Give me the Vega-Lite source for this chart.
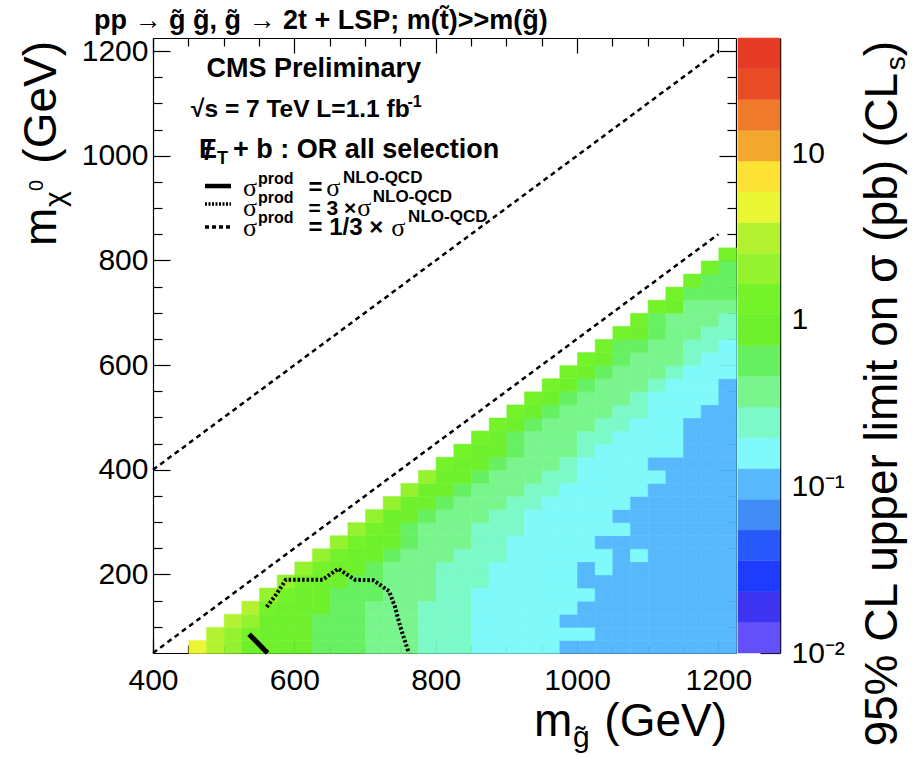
{
"$schema":"https://vega.github.io/schema/vega-lite/v6.json",
"background":"white",
"padding":{"left":18,"top":6,"right":5,"bottom":5},
"bounds":"flush",
"spacing":2,
"config":{"view":{"stroke":null},"axis":{"grid":false,"labelFont":"Liberation Sans","labelColor":"black","tickColor":"black","domainColor":"black","zindex":1},"text":{"font":"Liberation Sans","color":"black"}},
"datasets":{
"cells":[
{"mg":450,"mchi":50,"lim":4.6},{"mg":475,"mchi":50,"lim":3},{"mg":500,"mchi":50,"lim":2},{"mg":525,"mchi":50,"lim":0.85},{"mg":550,"mchi":50,"lim":0.85},{"mg":575,"mchi":50,"lim":0.85},{"mg":600,"mchi":50,"lim":0.85},{"mg":625,"mchi":50,"lim":0.55},{"mg":650,"mchi":50,"lim":0.55},{"mg":675,"mchi":50,"lim":0.55},{"mg":700,"mchi":50,"lim":0.36},{"mg":725,"mchi":50,"lim":0.36},{"mg":750,"mchi":50,"lim":0.36},{"mg":775,"mchi":50,"lim":0.24},{"mg":800,"mchi":50,"lim":0.24},{"mg":825,"mchi":50,"lim":0.24},{"mg":850,"mchi":50,"lim":0.16},{"mg":875,"mchi":50,"lim":0.16},{"mg":900,"mchi":50,"lim":0.16},{"mg":925,"mchi":50,"lim":0.16},{"mg":950,"mchi":50,"lim":0.16},{"mg":975,"mchi":50,"lim":0.1},{"mg":1000,"mchi":50,"lim":0.1},{"mg":1025,"mchi":50,"lim":0.1},{"mg":1050,"mchi":50,"lim":0.1},{"mg":1075,"mchi":50,"lim":0.1},{"mg":1100,"mchi":50,"lim":0.1},{"mg":1125,"mchi":50,"lim":0.1},{"mg":1150,"mchi":50,"lim":0.1},{"mg":1175,"mchi":50,"lim":0.1},{"mg":1200,"mchi":50,"lim":0.1},
{"mg":475,"mchi":75,"lim":3},{"mg":500,"mchi":75,"lim":2},{"mg":525,"mchi":75,"lim":1.3},{"mg":550,"mchi":75,"lim":0.85},{"mg":575,"mchi":75,"lim":0.85},{"mg":600,"mchi":75,"lim":0.85},{"mg":625,"mchi":75,"lim":0.55},{"mg":650,"mchi":75,"lim":0.55},{"mg":675,"mchi":75,"lim":0.55},{"mg":700,"mchi":75,"lim":0.36},{"mg":725,"mchi":75,"lim":0.36},{"mg":750,"mchi":75,"lim":0.36},{"mg":775,"mchi":75,"lim":0.24},{"mg":800,"mchi":75,"lim":0.24},{"mg":825,"mchi":75,"lim":0.24},{"mg":850,"mchi":75,"lim":0.16},{"mg":875,"mchi":75,"lim":0.16},{"mg":900,"mchi":75,"lim":0.16},{"mg":925,"mchi":75,"lim":0.16},{"mg":950,"mchi":75,"lim":0.16},{"mg":975,"mchi":75,"lim":0.16},{"mg":1000,"mchi":75,"lim":0.16},{"mg":1025,"mchi":75,"lim":0.1},{"mg":1050,"mchi":75,"lim":0.1},{"mg":1075,"mchi":75,"lim":0.1},{"mg":1100,"mchi":75,"lim":0.1},{"mg":1125,"mchi":75,"lim":0.1},{"mg":1150,"mchi":75,"lim":0.1},{"mg":1175,"mchi":75,"lim":0.1},{"mg":1200,"mchi":75,"lim":0.1},
{"mg":500,"mchi":100,"lim":3},{"mg":525,"mchi":100,"lim":2},{"mg":550,"mchi":100,"lim":0.85},{"mg":575,"mchi":100,"lim":0.85},{"mg":600,"mchi":100,"lim":0.85},{"mg":625,"mchi":100,"lim":0.55},{"mg":650,"mchi":100,"lim":0.55},{"mg":675,"mchi":100,"lim":0.55},{"mg":700,"mchi":100,"lim":0.36},{"mg":725,"mchi":100,"lim":0.36},{"mg":750,"mchi":100,"lim":0.36},{"mg":775,"mchi":100,"lim":0.24},{"mg":800,"mchi":100,"lim":0.24},{"mg":825,"mchi":100,"lim":0.24},{"mg":850,"mchi":100,"lim":0.16},{"mg":875,"mchi":100,"lim":0.16},{"mg":900,"mchi":100,"lim":0.16},{"mg":925,"mchi":100,"lim":0.16},{"mg":950,"mchi":100,"lim":0.16},{"mg":975,"mchi":100,"lim":0.1},{"mg":1000,"mchi":100,"lim":0.1},{"mg":1025,"mchi":100,"lim":0.1},{"mg":1050,"mchi":100,"lim":0.1},{"mg":1075,"mchi":100,"lim":0.1},{"mg":1100,"mchi":100,"lim":0.1},{"mg":1125,"mchi":100,"lim":0.1},{"mg":1150,"mchi":100,"lim":0.1},{"mg":1175,"mchi":100,"lim":0.1},{"mg":1200,"mchi":100,"lim":0.1},
{"mg":525,"mchi":125,"lim":3},{"mg":550,"mchi":125,"lim":1.3},{"mg":575,"mchi":125,"lim":0.85},{"mg":600,"mchi":125,"lim":0.85},{"mg":625,"mchi":125,"lim":0.85},{"mg":650,"mchi":125,"lim":0.55},{"mg":675,"mchi":125,"lim":0.55},{"mg":700,"mchi":125,"lim":0.36},{"mg":725,"mchi":125,"lim":0.36},{"mg":750,"mchi":125,"lim":0.36},{"mg":775,"mchi":125,"lim":0.24},{"mg":800,"mchi":125,"lim":0.24},{"mg":825,"mchi":125,"lim":0.24},{"mg":850,"mchi":125,"lim":0.16},{"mg":875,"mchi":125,"lim":0.16},{"mg":900,"mchi":125,"lim":0.16},{"mg":925,"mchi":125,"lim":0.16},{"mg":950,"mchi":125,"lim":0.16},{"mg":975,"mchi":125,"lim":0.16},{"mg":1000,"mchi":125,"lim":0.1},{"mg":1025,"mchi":125,"lim":0.1},{"mg":1050,"mchi":125,"lim":0.1},{"mg":1075,"mchi":125,"lim":0.1},{"mg":1100,"mchi":125,"lim":0.1},{"mg":1125,"mchi":125,"lim":0.1},{"mg":1150,"mchi":125,"lim":0.1},{"mg":1175,"mchi":125,"lim":0.1},{"mg":1200,"mchi":125,"lim":0.1},
{"mg":550,"mchi":150,"lim":2},{"mg":575,"mchi":150,"lim":1.3},{"mg":600,"mchi":150,"lim":0.85},{"mg":625,"mchi":150,"lim":0.85},{"mg":650,"mchi":150,"lim":0.55},{"mg":675,"mchi":150,"lim":0.55},{"mg":700,"mchi":150,"lim":0.55},{"mg":725,"mchi":150,"lim":0.36},{"mg":750,"mchi":150,"lim":0.36},{"mg":775,"mchi":150,"lim":0.36},{"mg":800,"mchi":150,"lim":0.24},{"mg":825,"mchi":150,"lim":0.24},{"mg":850,"mchi":150,"lim":0.16},{"mg":875,"mchi":150,"lim":0.16},{"mg":900,"mchi":150,"lim":0.16},{"mg":925,"mchi":150,"lim":0.16},{"mg":950,"mchi":150,"lim":0.16},{"mg":975,"mchi":150,"lim":0.16},{"mg":1000,"mchi":150,"lim":0.16},{"mg":1025,"mchi":150,"lim":0.1},{"mg":1050,"mchi":150,"lim":0.1},{"mg":1075,"mchi":150,"lim":0.1},{"mg":1100,"mchi":150,"lim":0.1},{"mg":1125,"mchi":150,"lim":0.1},{"mg":1150,"mchi":150,"lim":0.1},{"mg":1175,"mchi":150,"lim":0.1},{"mg":1200,"mchi":150,"lim":0.1},
{"mg":575,"mchi":175,"lim":2},{"mg":600,"mchi":175,"lim":1.3},{"mg":625,"mchi":175,"lim":0.85},{"mg":650,"mchi":175,"lim":0.85},{"mg":675,"mchi":175,"lim":0.55},{"mg":700,"mchi":175,"lim":0.55},{"mg":725,"mchi":175,"lim":0.36},{"mg":750,"mchi":175,"lim":0.36},{"mg":775,"mchi":175,"lim":0.36},{"mg":800,"mchi":175,"lim":0.24},{"mg":825,"mchi":175,"lim":0.24},{"mg":850,"mchi":175,"lim":0.24},{"mg":875,"mchi":175,"lim":0.16},{"mg":900,"mchi":175,"lim":0.16},{"mg":925,"mchi":175,"lim":0.16},{"mg":950,"mchi":175,"lim":0.16},{"mg":975,"mchi":175,"lim":0.16},{"mg":1000,"mchi":175,"lim":0.1},{"mg":1025,"mchi":175,"lim":0.1},{"mg":1050,"mchi":175,"lim":0.1},{"mg":1075,"mchi":175,"lim":0.1},{"mg":1100,"mchi":175,"lim":0.1},{"mg":1125,"mchi":175,"lim":0.1},{"mg":1150,"mchi":175,"lim":0.1},{"mg":1175,"mchi":175,"lim":0.1},{"mg":1200,"mchi":175,"lim":0.1},
{"mg":600,"mchi":200,"lim":2},{"mg":625,"mchi":200,"lim":1.3},{"mg":650,"mchi":200,"lim":0.85},{"mg":675,"mchi":200,"lim":0.85},{"mg":700,"mchi":200,"lim":0.55},{"mg":725,"mchi":200,"lim":0.36},{"mg":750,"mchi":200,"lim":0.36},{"mg":775,"mchi":200,"lim":0.36},{"mg":800,"mchi":200,"lim":0.24},{"mg":825,"mchi":200,"lim":0.24},{"mg":850,"mchi":200,"lim":0.24},{"mg":875,"mchi":200,"lim":0.16},{"mg":900,"mchi":200,"lim":0.16},{"mg":925,"mchi":200,"lim":0.16},{"mg":950,"mchi":200,"lim":0.16},{"mg":975,"mchi":200,"lim":0.16},{"mg":1000,"mchi":200,"lim":0.1},{"mg":1025,"mchi":200,"lim":0.16},{"mg":1050,"mchi":200,"lim":0.1},{"mg":1075,"mchi":200,"lim":0.1},{"mg":1100,"mchi":200,"lim":0.1},{"mg":1125,"mchi":200,"lim":0.1},{"mg":1150,"mchi":200,"lim":0.1},{"mg":1175,"mchi":200,"lim":0.1},{"mg":1200,"mchi":200,"lim":0.1},
{"mg":625,"mchi":225,"lim":2},{"mg":650,"mchi":225,"lim":1.3},{"mg":675,"mchi":225,"lim":0.85},{"mg":700,"mchi":225,"lim":0.85},{"mg":725,"mchi":225,"lim":0.55},{"mg":750,"mchi":225,"lim":0.36},{"mg":775,"mchi":225,"lim":0.36},{"mg":800,"mchi":225,"lim":0.36},{"mg":825,"mchi":225,"lim":0.24},{"mg":850,"mchi":225,"lim":0.24},{"mg":875,"mchi":225,"lim":0.24},{"mg":900,"mchi":225,"lim":0.16},{"mg":925,"mchi":225,"lim":0.16},{"mg":950,"mchi":225,"lim":0.16},{"mg":975,"mchi":225,"lim":0.16},{"mg":1000,"mchi":225,"lim":0.16},{"mg":1025,"mchi":225,"lim":0.16},{"mg":1050,"mchi":225,"lim":0.1},{"mg":1075,"mchi":225,"lim":0.16},{"mg":1100,"mchi":225,"lim":0.1},{"mg":1125,"mchi":225,"lim":0.1},{"mg":1150,"mchi":225,"lim":0.1},{"mg":1175,"mchi":225,"lim":0.1},{"mg":1200,"mchi":225,"lim":0.1},
{"mg":650,"mchi":250,"lim":2},{"mg":675,"mchi":250,"lim":1.3},{"mg":700,"mchi":250,"lim":0.85},{"mg":725,"mchi":250,"lim":0.85},{"mg":750,"mchi":250,"lim":0.55},{"mg":775,"mchi":250,"lim":0.36},{"mg":800,"mchi":250,"lim":0.36},{"mg":825,"mchi":250,"lim":0.36},{"mg":850,"mchi":250,"lim":0.24},{"mg":875,"mchi":250,"lim":0.24},{"mg":900,"mchi":250,"lim":0.16},{"mg":925,"mchi":250,"lim":0.16},{"mg":950,"mchi":250,"lim":0.16},{"mg":975,"mchi":250,"lim":0.16},{"mg":1000,"mchi":250,"lim":0.16},{"mg":1025,"mchi":250,"lim":0.1},{"mg":1050,"mchi":250,"lim":0.1},{"mg":1075,"mchi":250,"lim":0.1},{"mg":1100,"mchi":250,"lim":0.1},{"mg":1125,"mchi":250,"lim":0.1},{"mg":1150,"mchi":250,"lim":0.1},{"mg":1175,"mchi":250,"lim":0.1},{"mg":1200,"mchi":250,"lim":0.1},
{"mg":675,"mchi":275,"lim":2},{"mg":700,"mchi":275,"lim":1.3},{"mg":725,"mchi":275,"lim":0.85},{"mg":750,"mchi":275,"lim":0.55},{"mg":775,"mchi":275,"lim":0.36},{"mg":800,"mchi":275,"lim":0.36},{"mg":825,"mchi":275,"lim":0.36},{"mg":850,"mchi":275,"lim":0.24},{"mg":875,"mchi":275,"lim":0.24},{"mg":900,"mchi":275,"lim":0.24},{"mg":925,"mchi":275,"lim":0.16},{"mg":950,"mchi":275,"lim":0.16},{"mg":975,"mchi":275,"lim":0.16},{"mg":1000,"mchi":275,"lim":0.16},{"mg":1025,"mchi":275,"lim":0.16},{"mg":1050,"mchi":275,"lim":0.16},{"mg":1075,"mchi":275,"lim":0.1},{"mg":1100,"mchi":275,"lim":0.1},{"mg":1125,"mchi":275,"lim":0.1},{"mg":1150,"mchi":275,"lim":0.1},{"mg":1175,"mchi":275,"lim":0.1},{"mg":1200,"mchi":275,"lim":0.1},
{"mg":700,"mchi":300,"lim":2},{"mg":725,"mchi":300,"lim":0.85},{"mg":750,"mchi":300,"lim":0.85},{"mg":775,"mchi":300,"lim":0.55},{"mg":800,"mchi":300,"lim":0.36},{"mg":825,"mchi":300,"lim":0.36},{"mg":850,"mchi":300,"lim":0.36},{"mg":875,"mchi":300,"lim":0.24},{"mg":900,"mchi":300,"lim":0.24},{"mg":925,"mchi":300,"lim":0.16},{"mg":950,"mchi":300,"lim":0.16},{"mg":975,"mchi":300,"lim":0.16},{"mg":1000,"mchi":300,"lim":0.16},{"mg":1025,"mchi":300,"lim":0.16},{"mg":1050,"mchi":300,"lim":0.1},{"mg":1075,"mchi":300,"lim":0.1},{"mg":1100,"mchi":300,"lim":0.1},{"mg":1125,"mchi":300,"lim":0.1},{"mg":1150,"mchi":300,"lim":0.1},{"mg":1175,"mchi":300,"lim":0.1},{"mg":1200,"mchi":300,"lim":0.1},
{"mg":725,"mchi":325,"lim":2},{"mg":750,"mchi":325,"lim":0.85},{"mg":775,"mchi":325,"lim":0.85},{"mg":800,"mchi":325,"lim":0.55},{"mg":825,"mchi":325,"lim":0.36},{"mg":850,"mchi":325,"lim":0.36},{"mg":875,"mchi":325,"lim":0.36},{"mg":900,"mchi":325,"lim":0.24},{"mg":925,"mchi":325,"lim":0.24},{"mg":950,"mchi":325,"lim":0.16},{"mg":975,"mchi":325,"lim":0.16},{"mg":1000,"mchi":325,"lim":0.16},{"mg":1025,"mchi":325,"lim":0.16},{"mg":1050,"mchi":325,"lim":0.16},{"mg":1075,"mchi":325,"lim":0.1},{"mg":1100,"mchi":325,"lim":0.1},{"mg":1125,"mchi":325,"lim":0.1},{"mg":1150,"mchi":325,"lim":0.1},{"mg":1175,"mchi":325,"lim":0.1},{"mg":1200,"mchi":325,"lim":0.1},
{"mg":750,"mchi":350,"lim":2},{"mg":775,"mchi":350,"lim":0.85},{"mg":800,"mchi":350,"lim":0.85},{"mg":825,"mchi":350,"lim":0.55},{"mg":850,"mchi":350,"lim":0.36},{"mg":875,"mchi":350,"lim":0.36},{"mg":900,"mchi":350,"lim":0.36},{"mg":925,"mchi":350,"lim":0.24},{"mg":950,"mchi":350,"lim":0.24},{"mg":975,"mchi":350,"lim":0.16},{"mg":1000,"mchi":350,"lim":0.16},{"mg":1025,"mchi":350,"lim":0.16},{"mg":1050,"mchi":350,"lim":0.16},{"mg":1075,"mchi":350,"lim":0.16},{"mg":1100,"mchi":350,"lim":0.1},{"mg":1125,"mchi":350,"lim":0.1},{"mg":1150,"mchi":350,"lim":0.1},{"mg":1175,"mchi":350,"lim":0.1},{"mg":1200,"mchi":350,"lim":0.1},
{"mg":775,"mchi":375,"lim":2},{"mg":800,"mchi":375,"lim":0.85},{"mg":825,"mchi":375,"lim":0.85},{"mg":850,"mchi":375,"lim":0.55},{"mg":875,"mchi":375,"lim":0.36},{"mg":900,"mchi":375,"lim":0.36},{"mg":925,"mchi":375,"lim":0.36},{"mg":950,"mchi":375,"lim":0.24},{"mg":975,"mchi":375,"lim":0.24},{"mg":1000,"mchi":375,"lim":0.16},{"mg":1025,"mchi":375,"lim":0.16},{"mg":1050,"mchi":375,"lim":0.16},{"mg":1075,"mchi":375,"lim":0.16},{"mg":1100,"mchi":375,"lim":0.16},{"mg":1125,"mchi":375,"lim":0.1},{"mg":1150,"mchi":375,"lim":0.1},{"mg":1175,"mchi":375,"lim":0.1},{"mg":1200,"mchi":375,"lim":0.1},
{"mg":800,"mchi":400,"lim":1.3},{"mg":825,"mchi":400,"lim":0.85},{"mg":850,"mchi":400,"lim":0.85},{"mg":875,"mchi":400,"lim":0.55},{"mg":900,"mchi":400,"lim":0.36},{"mg":925,"mchi":400,"lim":0.36},{"mg":950,"mchi":400,"lim":0.36},{"mg":975,"mchi":400,"lim":0.24},{"mg":1000,"mchi":400,"lim":0.16},{"mg":1025,"mchi":400,"lim":0.16},{"mg":1050,"mchi":400,"lim":0.16},{"mg":1075,"mchi":400,"lim":0.16},{"mg":1100,"mchi":400,"lim":0.1},{"mg":1125,"mchi":400,"lim":0.1},{"mg":1150,"mchi":400,"lim":0.1},{"mg":1175,"mchi":400,"lim":0.1},{"mg":1200,"mchi":400,"lim":0.1},
{"mg":825,"mchi":425,"lim":1.3},{"mg":850,"mchi":425,"lim":0.85},{"mg":875,"mchi":425,"lim":0.85},{"mg":900,"mchi":425,"lim":0.55},{"mg":925,"mchi":425,"lim":0.36},{"mg":950,"mchi":425,"lim":0.36},{"mg":975,"mchi":425,"lim":0.36},{"mg":1000,"mchi":425,"lim":0.24},{"mg":1025,"mchi":425,"lim":0.16},{"mg":1050,"mchi":425,"lim":0.16},{"mg":1075,"mchi":425,"lim":0.16},{"mg":1100,"mchi":425,"lim":0.16},{"mg":1125,"mchi":425,"lim":0.16},{"mg":1150,"mchi":425,"lim":0.1},{"mg":1175,"mchi":425,"lim":0.1},{"mg":1200,"mchi":425,"lim":0.1},
{"mg":850,"mchi":450,"lim":1.3},{"mg":875,"mchi":450,"lim":0.85},{"mg":900,"mchi":450,"lim":0.55},{"mg":925,"mchi":450,"lim":0.36},{"mg":950,"mchi":450,"lim":0.36},{"mg":975,"mchi":450,"lim":0.36},{"mg":1000,"mchi":450,"lim":0.24},{"mg":1025,"mchi":450,"lim":0.24},{"mg":1050,"mchi":450,"lim":0.16},{"mg":1075,"mchi":450,"lim":0.16},{"mg":1100,"mchi":450,"lim":0.16},{"mg":1125,"mchi":450,"lim":0.16},{"mg":1150,"mchi":450,"lim":0.1},{"mg":1175,"mchi":450,"lim":0.1},{"mg":1200,"mchi":450,"lim":0.1},
{"mg":875,"mchi":475,"lim":1.3},{"mg":900,"mchi":475,"lim":0.85},{"mg":925,"mchi":475,"lim":0.55},{"mg":950,"mchi":475,"lim":0.36},{"mg":975,"mchi":475,"lim":0.36},{"mg":1000,"mchi":475,"lim":0.36},{"mg":1025,"mchi":475,"lim":0.24},{"mg":1050,"mchi":475,"lim":0.24},{"mg":1075,"mchi":475,"lim":0.16},{"mg":1100,"mchi":475,"lim":0.16},{"mg":1125,"mchi":475,"lim":0.16},{"mg":1150,"mchi":475,"lim":0.1},{"mg":1175,"mchi":475,"lim":0.1},{"mg":1200,"mchi":475,"lim":0.1},
{"mg":900,"mchi":500,"lim":1.3},{"mg":925,"mchi":500,"lim":0.85},{"mg":950,"mchi":500,"lim":0.55},{"mg":975,"mchi":500,"lim":0.36},{"mg":1000,"mchi":500,"lim":0.36},{"mg":1025,"mchi":500,"lim":0.36},{"mg":1050,"mchi":500,"lim":0.24},{"mg":1075,"mchi":500,"lim":0.24},{"mg":1100,"mchi":500,"lim":0.16},{"mg":1125,"mchi":500,"lim":0.16},{"mg":1150,"mchi":500,"lim":0.16},{"mg":1175,"mchi":500,"lim":0.1},{"mg":1200,"mchi":500,"lim":0.1},
{"mg":925,"mchi":525,"lim":1.3},{"mg":950,"mchi":525,"lim":0.85},{"mg":975,"mchi":525,"lim":0.55},{"mg":1000,"mchi":525,"lim":0.36},{"mg":1025,"mchi":525,"lim":0.36},{"mg":1050,"mchi":525,"lim":0.36},{"mg":1075,"mchi":525,"lim":0.24},{"mg":1100,"mchi":525,"lim":0.16},{"mg":1125,"mchi":525,"lim":0.16},{"mg":1150,"mchi":525,"lim":0.16},{"mg":1175,"mchi":525,"lim":0.16},{"mg":1200,"mchi":525,"lim":0.1},
{"mg":950,"mchi":550,"lim":1.3},{"mg":975,"mchi":550,"lim":0.85},{"mg":1000,"mchi":550,"lim":0.55},{"mg":1025,"mchi":550,"lim":0.36},{"mg":1050,"mchi":550,"lim":0.36},{"mg":1075,"mchi":550,"lim":0.36},{"mg":1100,"mchi":550,"lim":0.24},{"mg":1125,"mchi":550,"lim":0.16},{"mg":1150,"mchi":550,"lim":0.16},{"mg":1175,"mchi":550,"lim":0.16},{"mg":1200,"mchi":550,"lim":0.1},
{"mg":975,"mchi":575,"lim":1.3},{"mg":1000,"mchi":575,"lim":0.85},{"mg":1025,"mchi":575,"lim":0.55},{"mg":1050,"mchi":575,"lim":0.36},{"mg":1075,"mchi":575,"lim":0.36},{"mg":1100,"mchi":575,"lim":0.36},{"mg":1125,"mchi":575,"lim":0.24},{"mg":1150,"mchi":575,"lim":0.16},{"mg":1175,"mchi":575,"lim":0.16},{"mg":1200,"mchi":575,"lim":0.16},
{"mg":1000,"mchi":600,"lim":1.3},{"mg":1025,"mchi":600,"lim":0.85},{"mg":1050,"mchi":600,"lim":0.55},{"mg":1075,"mchi":600,"lim":0.36},{"mg":1100,"mchi":600,"lim":0.36},{"mg":1125,"mchi":600,"lim":0.36},{"mg":1150,"mchi":600,"lim":0.24},{"mg":1175,"mchi":600,"lim":0.16},{"mg":1200,"mchi":600,"lim":0.16},
{"mg":1025,"mchi":625,"lim":1.3},{"mg":1050,"mchi":625,"lim":0.55},{"mg":1075,"mchi":625,"lim":0.55},{"mg":1100,"mchi":625,"lim":0.36},{"mg":1125,"mchi":625,"lim":0.36},{"mg":1150,"mchi":625,"lim":0.24},{"mg":1175,"mchi":625,"lim":0.24},{"mg":1200,"mchi":625,"lim":0.16},
{"mg":1050,"mchi":650,"lim":1.3},{"mg":1075,"mchi":650,"lim":0.85},{"mg":1100,"mchi":650,"lim":0.55},{"mg":1125,"mchi":650,"lim":0.36},{"mg":1150,"mchi":650,"lim":0.36},{"mg":1175,"mchi":650,"lim":0.24},{"mg":1200,"mchi":650,"lim":0.24},
{"mg":1075,"mchi":675,"lim":1.3},{"mg":1100,"mchi":675,"lim":0.55},{"mg":1125,"mchi":675,"lim":0.36},{"mg":1150,"mchi":675,"lim":0.36},{"mg":1175,"mchi":675,"lim":0.36},{"mg":1200,"mchi":675,"lim":0.24},
{"mg":1100,"mchi":700,"lim":1.3},{"mg":1125,"mchi":700,"lim":0.85},{"mg":1150,"mchi":700,"lim":0.36},{"mg":1175,"mchi":700,"lim":0.36},{"mg":1200,"mchi":700,"lim":0.36},
{"mg":1125,"mchi":725,"lim":1.3},{"mg":1150,"mchi":725,"lim":0.55},{"mg":1175,"mchi":725,"lim":0.55},{"mg":1200,"mchi":725,"lim":0.55},
{"mg":1150,"mchi":750,"lim":1.3},{"mg":1175,"mchi":750,"lim":0.55},{"mg":1200,"mchi":750,"lim":0.55},
{"mg":1175,"mchi":775,"lim":1.3},{"mg":1200,"mchi":775,"lim":0.55},
{"mg":1200,"mchi":800,"lim":1.3}
],
"bands":[
{"lo":0.01,"hi":0.01529,"mid":0.01237},{"lo":0.01529,"hi":0.02339,"mid":0.01891},{"lo":0.02339,"hi":0.03577,"mid":0.02893},{"lo":0.03577,"hi":0.05472,"mid":0.04424},{"lo":0.05472,"hi":0.08369,"mid":0.06767},{"lo":0.08369,"hi":0.128,"mid":0.1035},{"lo":0.128,"hi":0.1958,"mid":0.1583},{"lo":0.1958,"hi":0.2995,"mid":0.242},{"lo":0.2995,"hi":0.4581,"mid":0.3703},{"lo":0.4581,"hi":0.7007,"mid":0.5662},{"lo":0.7007,"hi":1.0706,"mid":0.8658},{"lo":1.0706,"hi":1.6375,"mid":1.324},{"lo":1.6375,"hi":2.5048,"mid":2.025},{"lo":2.5048,"hi":3.8312,"mid":3.097},{"lo":3.8312,"hi":5.8602,"mid":4.736},{"lo":5.8602,"hi":8.9636,"mid":7.244},{"lo":8.9636,"hi":13.71,"mid":11.08},{"lo":13.71,"hi":20.971,"mid":16.94},{"lo":20.971,"hi":32.077,"mid":25.92},{"lo":32.077,"hi":49,"mid":39.64}
],
"kin":[{"line":"equal","mg":400,"mchi":400},{"line":"equal","mg":1200,"mchi":1200},{"line":"twotop","mg":400,"mchi":50},{"line":"twotop","mg":1200,"mchi":850}],
"contour":[
{"curve":"nominal","i":0,"mg":536,"mchi":86},{"curve":"nominal","i":1,"mg":562,"mchi":50},
{"curve":"x3","i":0,"mg":561,"mchi":138},{"curve":"x3","i":1,"mg":576,"mchi":165},{"curve":"x3","i":2,"mg":588,"mchi":190},{"curve":"x3","i":3,"mg":612,"mchi":190},{"curve":"x3","i":4,"mg":640,"mchi":190},{"curve":"x3","i":5,"mg":662,"mchi":211},{"curve":"x3","i":6,"mg":686,"mchi":190},{"curve":"x3","i":7,"mg":712,"mchi":189},{"curve":"x3","i":8,"mg":734,"mchi":168},{"curve":"x3","i":9,"mg":742,"mchi":140},{"curve":"x3","i":10,"mg":750,"mchi":100},{"curve":"x3","i":11,"mg":762,"mchi":50}
]
},
"hconcat":[
{
"width":583,"height":615,
"layer":[
{"data":{"name":"cells"},"mark":{"type":"rect","binSpacing":0,"strokeWidth":0.5},
"encoding":{
"x":{"field":"mg","type":"quantitative","bin":{"binned":true,"step":25},"scale":{"domain":[400,1225],"nice":false,"zero":false},
"axis":{"orient":"bottom","title":null,"values":[400,450,500,550,600,650,700,750,800,850,900,950,1000,1050,1100,1150,1200],"format":"d","labelExpr":"datum.value % 200 === 0 ? datum.label : ''","tickSize":{"expr":"datum.value % 200 === 0 ? -15 : -8"},"tickWidth":1.2,"labelFontSize":30,"labelPadding":27,"labelOverlap":false,"labelBound":false,"labelFlush":false,"domainWidth":1.2}},
"y":{"field":"mchi","type":"quantitative","bin":{"binned":true,"step":25},"scale":{"domain":[50,1225],"nice":false,"zero":false},
"axis":{"orient":"left","title":null,"values":[100,150,200,250,300,350,400,450,500,550,600,650,700,750,800,850,900,950,1000,1050,1100,1150,1200],"format":"d","labelExpr":"datum.value % 200 === 0 ? datum.label : ''","tickSize":{"expr":"datum.value % 200 === 0 ? -17 : -9"},"tickWidth":1.2,"labelFontSize":30,"labelPadding":22,"labelOverlap":false,"labelBound":false,"labelFlush":false,"domainWidth":1.2}},
"color":{"field":"lim","type":"quantitative","scale":{"type":"threshold","domain":[0.01529,0.02339,0.03577,0.05472,0.08369,0.128,0.1958,0.2995,0.4581,0.7007,1.0706,1.6375,2.5048,3.8312,5.8602,8.9636,13.71,20.971,32.077],"range":["#6450fa","#3c34f0","#1e3cff","#2858fa","#418cf5","#57b9fc","#7ff9f9","#7cf9c8","#7af48c","#66f062","#6ef02c","#74f22a","#94f22e","#b2f230","#eaf534","#fce232","#f2a82e","#ee7a2a","#e84c26","#e63c26"]},"legend":null},
"stroke":{"field":"lim","type":"quantitative","scale":{"type":"threshold","domain":[0.01529,0.02339,0.03577,0.05472,0.08369,0.128,0.1958,0.2995,0.4581,0.7007,1.0706,1.6375,2.5048,3.8312,5.8602,8.9636,13.71,20.971,32.077],"range":["#6450fa","#3c34f0","#1e3cff","#2858fa","#418cf5","#57b9fc","#7ff9f9","#7cf9c8","#7af48c","#66f062","#6ef02c","#74f22a","#94f22e","#b2f230","#eaf534","#fce232","#f2a82e","#ee7a2a","#e84c26","#e63c26"]},"legend":null}
}},
{"data":{"name":"kin"},"mark":{"type":"line","color":"black","strokeWidth":2.5,"strokeDash":[5,4]},
"encoding":{
"x":{"field":"mg","type":"quantitative","axis":{"orient":"top","title":null,"labels":false,"values":[400,450,500,550,600,650,700,750,800,850,900,950,1000,1050,1100,1150,1200],"tickSize":{"expr":"datum.value % 200 === 0 ? -15 : -8"},"tickWidth":1.2,"domainWidth":1.2}},
"y":{"field":"mchi","type":"quantitative","axis":{"orient":"right","title":null,"labels":false,"values":[100,150,200,250,300,350,400,450,500,550,600,650,700,750,800,850,900,950,1000,1050,1100,1150,1200],"tickSize":{"expr":"datum.value % 200 === 0 ? -17 : -9"},"tickWidth":1.2,"domainWidth":1.2}},
"detail":{"field":"line"}}},
{"data":{"name":"contour"},"transform":[{"filter":"datum.curve === 'nominal'"}],"mark":{"type":"line","color":"black","strokeWidth":5},
"encoding":{"x":{"field":"mg","type":"quantitative","axis":null},"y":{"field":"mchi","type":"quantitative","axis":null},"order":{"field":"i"}}},
{"data":{"name":"contour"},"transform":[{"filter":"datum.curve === 'x3'"}],"mark":{"type":"line","color":"black","strokeWidth":4,"strokeDash":[2.5,2]},
"encoding":{"x":{"field":"mg","type":"quantitative","axis":null},"y":{"field":"mchi","type":"quantitative","axis":null},"order":{"field":"i"}}},
{"data":{"values":[{}]},"mark":{"type":"rule","color":"black","strokeWidth":4.5},"encoding":{"x":{"datum":473.6,"axis":null},"x2":{"datum":510.4},"y":{"datum":942.2,"axis":null}}},
{"data":{"values":[{}]},"mark":{"type":"rule","color":"black","strokeWidth":3.5,"strokeDash":[2,1.5]},"encoding":{"x":{"datum":473.6,"axis":null},"x2":{"datum":510.4},"y":{"datum":907.8,"axis":null}}},
{"data":{"values":[{}]},"mark":{"type":"rule","color":"black","strokeWidth":3.5,"strokeDash":[4,3]},"encoding":{"x":{"datum":473.6,"axis":null},"x2":{"datum":510.4},"y":{"datum":863.9,"axis":null}}},
{"data":{"values":[{}]},"mark":{"type":"text","text":"pp → g̃ g̃, g̃ → 2t + LSP; m(t̃)>>m(g̃)","fontSize":27,"fontWeight":"bold","align":"left","baseline":"alphabetic"},"encoding":{"x":{"datum":316.5,"axis":null},"y":{"datum":1242.2,"axis":null}}},
{"data":{"values":[{}]},"mark":{"type":"text","text":"CMS Preliminary","fontSize":27,"fontWeight":"bold","align":"left","baseline":"alphabetic"},"encoding":{"x":{"datum":475.7,"axis":null},"y":{"datum":1150.5,"axis":null}}},
{"data":{"values":[{}]},"mark":{"type":"text","text":"√s = 7 TeV L=1.1 fb","fontSize":24.5,"fontWeight":"bold","align":"left","baseline":"alphabetic"},"encoding":{"x":{"datum":453.8,"axis":null},"y":{"datum":1074.1,"axis":null}}},
{"data":{"values":[{}]},"mark":{"type":"text","text":"-1","fontSize":16,"fontWeight":"bold","align":"left","baseline":"alphabetic"},"encoding":{"x":{"datum":760,"axis":null},"y":{"datum":1093.2,"axis":null}}},
{"data":{"values":[{}]},"mark":{"type":"text","text":"E","fontSize":27,"fontWeight":"bold","align":"left","baseline":"alphabetic"},"encoding":{"x":{"datum":465.1,"axis":null},"y":{"datum":995.7,"axis":null}}},
{"data":{"values":[{}]},"mark":{"type":"text","text":"/","fontSize":28,"fontWeight":"bold","align":"left","baseline":"alphabetic"},"encoding":{"x":{"datum":472.6,"axis":null},"y":{"datum":993.5,"axis":null}}},
{"data":{"values":[{}]},"mark":{"type":"text","text":"T","fontSize":18,"fontWeight":"bold","align":"left","baseline":"alphabetic"},"encoding":{"x":{"datum":490.6,"axis":null},"y":{"datum":984.3,"axis":null}}},
{"data":{"values":[{}]},"mark":{"type":"text","text":"+ b : OR all selection","fontSize":27,"fontWeight":"bold","align":"left","baseline":"alphabetic"},"encoding":{"x":{"datum":513.2,"axis":null},"y":{"datum":995.7,"axis":null}}},
{"data":{"values":[{}]},"mark":{"type":"text","text":"σ","font":"Liberation Serif","fontSize":26,"align":"left","baseline":"alphabetic"},"encoding":{"x":{"datum":527.4,"axis":null},"y":{"datum":923.1,"axis":null}}},
{"data":{"values":[{}]},"mark":{"type":"text","text":"prod","fontSize":16,"fontWeight":"bold","align":"left","baseline":"alphabetic"},"encoding":{"x":{"datum":548.6,"axis":null},"y":{"datum":947,"axis":null}}},
{"data":{"values":[{}]},"mark":{"type":"text","text":"=","fontSize":24,"fontWeight":"bold","align":"left","baseline":"alphabetic"},"encoding":{"x":{"datum":620,"axis":null},"y":{"datum":924.9,"axis":null}}},
{"data":{"values":[{}]},"mark":{"type":"text","text":"σ","font":"Liberation Serif","fontSize":26,"align":"left","baseline":"alphabetic"},"encoding":{"x":{"datum":645,"axis":null},"y":{"datum":923.1,"axis":null}}},
{"data":{"values":[{}]},"mark":{"type":"text","text":"NLO-QCD","fontSize":17,"fontWeight":"bold","align":"left","baseline":"alphabetic"},"encoding":{"x":{"datum":669,"axis":null},"y":{"datum":948,"axis":null}}},
{"data":{"values":[{}]},"mark":{"type":"text","text":"σ","font":"Liberation Serif","fontSize":26,"align":"left","baseline":"alphabetic"},"encoding":{"x":{"datum":527.4,"axis":null},"y":{"datum":884.9,"axis":null}}},
{"data":{"values":[{}]},"mark":{"type":"text","text":"prod","fontSize":16,"fontWeight":"bold","align":"left","baseline":"alphabetic"},"encoding":{"x":{"datum":548.6,"axis":null},"y":{"datum":909.8,"axis":null}}},
{"data":{"values":[{}]},"mark":{"type":"text","text":"= 3 ×","fontSize":21,"fontWeight":"bold","align":"left","baseline":"alphabetic"},"encoding":{"x":{"datum":620,"axis":null},"y":{"datum":886.8,"axis":null}}},
{"data":{"values":[{}]},"mark":{"type":"text","text":"σ","font":"Liberation Serif","fontSize":26,"align":"left","baseline":"alphabetic"},"encoding":{"x":{"datum":689,"axis":null},"y":{"datum":884.9,"axis":null}}},
{"data":{"values":[{}]},"mark":{"type":"text","text":"NLO-QCD","fontSize":17,"fontWeight":"bold","align":"left","baseline":"alphabetic"},"encoding":{"x":{"datum":711,"axis":null},"y":{"datum":911,"axis":null}}},
{"data":{"values":[{}]},"mark":{"type":"text","text":"σ","font":"Liberation Serif","fontSize":26,"align":"left","baseline":"alphabetic"},"encoding":{"x":{"datum":527.4,"axis":null},"y":{"datum":846.7,"axis":null}}},
{"data":{"values":[{}]},"mark":{"type":"text","text":"prod","fontSize":16,"fontWeight":"bold","align":"left","baseline":"alphabetic"},"encoding":{"x":{"datum":548.6,"axis":null},"y":{"datum":872,"axis":null}}},
{"data":{"values":[{}]},"mark":{"type":"text","text":"= 1/3 ×","fontSize":24,"fontWeight":"bold","align":"left","baseline":"alphabetic"},"encoding":{"x":{"datum":620,"axis":null},"y":{"datum":848.6,"axis":null}}},
{"data":{"values":[{}]},"mark":{"type":"text","text":"σ","font":"Liberation Serif","fontSize":26,"align":"left","baseline":"alphabetic"},"encoding":{"x":{"datum":737,"axis":null},"y":{"datum":846.7,"axis":null}}},
{"data":{"values":[{}]},"mark":{"type":"text","text":"NLO-QCD","fontSize":17,"fontWeight":"bold","align":"left","baseline":"alphabetic"},"encoding":{"x":{"datum":761,"axis":null},"y":{"datum":873,"axis":null}}},
{"data":{"values":[{}]},"mark":{"type":"text","text":"m","fontSize":46,"align":"left","baseline":"alphabetic"},"encoding":{"x":{"datum":939.1,"axis":null},"y":{"datum":-108.6,"axis":null}}},
{"data":{"values":[{}]},"mark":{"type":"text","text":"g̃","fontSize":30,"align":"left","baseline":"alphabetic"},"encoding":{"x":{"datum":994.3,"axis":null},"y":{"datum":-130,"axis":null}}},
{"data":{"values":[{}]},"mark":{"type":"text","text":"(GeV)","fontSize":46,"align":"right","baseline":"alphabetic"},"encoding":{"x":{"datum":1212.3,"axis":null},"y":{"datum":-108.6,"axis":null}}},
{"data":{"values":[{}]},"mark":{"type":"text","text":"m","fontSize":46,"angle":270,"align":"left","baseline":"alphabetic"},"encoding":{"x":{"datum":262.7,"axis":null},"y":{"datum":827.6,"axis":null}}},
{"data":{"values":[{}]},"mark":{"type":"text","text":"χ","fontSize":30,"angle":270,"align":"left","baseline":"alphabetic"},"encoding":{"x":{"datum":275.5,"axis":null},"y":{"datum":902.1,"axis":null}}},
{"data":{"values":[{}]},"mark":{"type":"text","text":"0","fontSize":20,"angle":270,"align":"left","baseline":"alphabetic"},"encoding":{"x":{"datum":244.3,"axis":null},"y":{"datum":932.7,"axis":null}}},
{"data":{"values":[{}]},"mark":{"type":"text","text":"(GeV)","fontSize":46,"angle":270,"align":"right","baseline":"alphabetic"},"encoding":{"x":{"datum":262.7,"axis":null},"y":{"datum":1219.3,"axis":null}}}
],
"resolve":{"axis":{"x":"independent","y":"independent"}}
},
{
"width":42,"height":615,
"layer":[
{"data":{"name":"bands"},"mark":{"type":"rect","strokeWidth":0.5},
"encoding":{
"x":{"datum":0,"type":"quantitative","scale":{"domain":[0,1],"nice":false,"zero":false},"axis":null},
"x2":{"datum":1},
"y":{"field":"lo","type":"quantitative","scale":{"type":"log","domain":[0.01,49],"nice":false},
"axis":{"orient":"right","title":null,"values":[0.01,0.02,0.03,0.04,0.05,0.06,0.07,0.08,0.09,0.1,0.2,0.3,0.4,0.5,0.6,0.7,0.8,0.9,1,2,3,4,5,6,7,8,9,10,20,30,40],"labelExpr":"datum.value === 10 ? '10' : datum.value === 1 ? '1' : datum.value === 0.1 ? '10⁻¹' : datum.value === 0.01 ? '10⁻²' : ''","tickSize":{"expr":"(datum.value === 10 || datum.value === 1 || datum.value === 0.1 || datum.value === 0.01) ? -20 : -11"},"tickWidth":1.2,"labelFontSize":30,"labelPadding":31,"labelAlign":"left","labelOverlap":false,"labelBound":false,"labelFlush":false,"domainWidth":1.5}},
"y2":{"field":"hi"},
"color":{"field":"mid","type":"quantitative","scale":{"type":"threshold","domain":[0.01529,0.02339,0.03577,0.05472,0.08369,0.128,0.1958,0.2995,0.4581,0.7007,1.0706,1.6375,2.5048,3.8312,5.8602,8.9636,13.71,20.971,32.077],"range":["#6450fa","#3c34f0","#1e3cff","#2858fa","#418cf5","#57b9fc","#7ff9f9","#7cf9c8","#7af48c","#66f062","#6ef02c","#74f22a","#94f22e","#b2f230","#eaf534","#fce232","#f2a82e","#ee7a2a","#e84c26","#e63c26"]},"legend":null},
"stroke":{"field":"mid","type":"quantitative","scale":{"type":"threshold","domain":[0.01529,0.02339,0.03577,0.05472,0.08369,0.128,0.1958,0.2995,0.4581,0.7007,1.0706,1.6375,2.5048,3.8312,5.8602,8.9636,13.71,20.971,32.077],"range":["#6450fa","#3c34f0","#1e3cff","#2858fa","#418cf5","#57b9fc","#7ff9f9","#7cf9c8","#7af48c","#66f062","#6ef02c","#74f22a","#94f22e","#b2f230","#eaf534","#fce232","#f2a82e","#ee7a2a","#e84c26","#e63c26"]},"legend":null}
}},
{"data":{"values":[{}]},"mark":{"type":"text","text":"95% CL upper limit on σ (pb) (CL","fontSize":46,"angle":270,"align":"right","baseline":"alphabetic"},"encoding":{"x":{"datum":3.786,"axis":null},"y":{"datum":30.2,"axis":null}}},
{"data":{"values":[{}]},"mark":{"type":"text","text":"s","fontSize":28,"angle":270,"align":"right","baseline":"alphabetic"},"encoding":{"x":{"datum":3.976,"axis":null},"y":{"datum":38.06,"axis":null}}},
{"data":{"values":[{}]},"mark":{"type":"text","text":")","fontSize":46,"angle":270,"align":"right","baseline":"alphabetic"},"encoding":{"x":{"datum":3.786,"axis":null},"y":{"datum":47,"axis":null}}}
],
"resolve":{"axis":{"x":"independent","y":"independent"}}
}
]
}
